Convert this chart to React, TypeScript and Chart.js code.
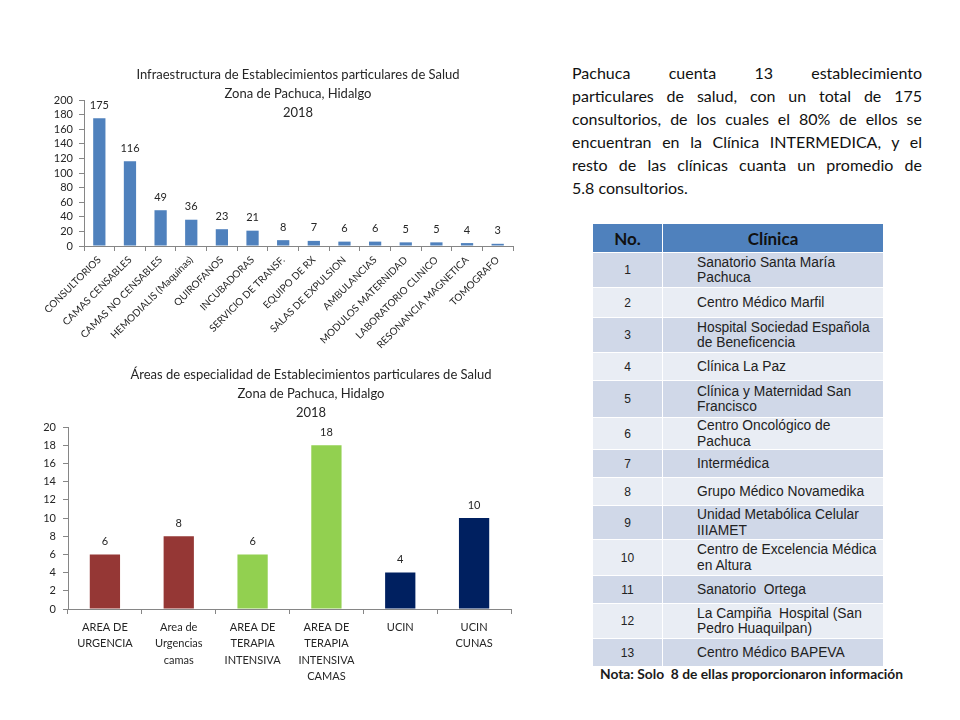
import React, { useEffect, useRef } from 'react';
import { Chart, registerables } from 'chart.js';

Chart.register(...registerables);

// ---------- Data ----------
const infraTitle = ['Infraestructura de Establecimientos particulares de Salud', 'Zona de Pachuca, Hidalgo', '2018'];
const infraCategories = [
  'CONSULTORIOS', 'CAMAS CENSABLES', 'CAMAS NO CENSABLES', 'HEMODIALIS (Maquinas)', 'QUIROFANOS',
  'INCUBADORAS', 'SERVICIO DE TRANSF.', 'EQUIPO DE RX', 'SALAS DE EXPULSION', 'AMBULANCIAS',
  'MODULOS MATERNIDAD', 'LABORATORIO CLINICO', 'RESONANCIA MAGNETICA', 'TOMOGRAFO',
];
const infraValues = [175, 116, 49, 36, 23, 21, 8, 7, 6, 6, 5, 5, 4, 3];
const infraColor = '#4F81BD';
const infraMax = 200;
const infraStep = 20;

const areaTitle = ['Áreas de especialidad de Establecimientos particulares de Salud', 'Zona de Pachuca, Hidalgo', '2018'];
const areaCategories = [
  ['AREA DE', 'URGENCIA'],
  ['Area de', 'Urgencias', 'camas'],
  ['AREA DE', 'TERAPIA', 'INTENSIVA'],
  ['AREA DE', 'TERAPIA', 'INTENSIVA', 'CAMAS'],
  ['UCIN'],
  ['UCIN', 'CUNAS'],
];
const areaValues = [6, 8, 6, 18, 4, 10];
const areaColors = ['#953735', '#953735', '#92D050', '#92D050', '#002060', '#002060'];
const areaMax = 20;
const areaStep = 2;

const paragraphLines = [
  'Pachuca cuenta 13 establecimiento',
  'particulares de salud, con un total de 175',
  'consultorios, de los cuales el 80% de ellos se',
  'encuentran en la Clínica INTERMEDICA, y el',
  'resto de las clínicas cuanta un promedio de',
  '5.8 consultorios.',
];

const tableHeader = ['No.', 'Clínica'];
const clinicNumbers = ['1', '2', '3', '4', '5', '6', '7', '8', '9', '10', '11', '12', '13'];
const clinicNames = [
  'Sanatorio Santa María Pachuca',
  'Centro Médico Marfil',
  'Hospital Sociedad Española de Beneficencia',
  'Clínica La Paz',
  'Clínica y Maternidad San Francisco',
  'Centro Oncológico de Pachuca',
  'Intermédica',
  'Grupo Médico Novamedika',
  'Unidad Metabólica Celular IIIAMET',
  'Centro de Excelencia Médica en Altura',
  'Sanatorio  Ortega',
  'La Campiña  Hospital (San Pedro Huaquilpan)',
  'Centro Médico BAPEVA',
];
const noteText = 'Nota: Solo  8 de ellas proporcionaron información';

// ---------- Layout constants ----------
const rowHeights = [35, 30, 35, 28, 37, 32, 28, 28, 34, 36, 28, 35, 28];
const FONT = 'Lato, "Open Sans", sans-serif';
const TEXT = '#262626';
const AXIS = '#868686';

type ChartSpec = {
  title: string[];
  titleCenterX: number;
  titleYs: number[];
  labels: any[];
  values: number[];
  colors: string | string[];
  max: number;
  step: number;
  yWidth: number;
  yPadding: number;
  xHeight: number;
  padTop: number;
  padRight: number;
  xFont: number;
  xRotate: number;
  xPadding: number;
  xLineHeight: number;
  barPct: number;
};

function BarChart({ spec, left, top, width, height }: { spec: ChartSpec; left: number; top: number; width: number; height: number }) {
  const ref = useRef<HTMLCanvasElement>(null);
  useEffect(() => {
    const canvas = ref.current!;
    const titlePlugin = {
      id: 'slideTitle',
      afterDraw(chart: any) {
        const ctx = chart.ctx;
        ctx.save();
        ctx.font = `13px ${FONT}`;
        ctx.fillStyle = TEXT;
        ctx.textAlign = 'center';
        ctx.textBaseline = 'middle';
        spec.title.forEach((line, i) => ctx.fillText(line, spec.titleCenterX, spec.titleYs[i]));
        ctx.restore();
      },
    };
    const valuePlugin = {
      id: 'valueLabels',
      afterDatasetsDraw(chart: any) {
        const ctx = chart.ctx;
        const meta = chart.getDatasetMeta(0);
        const data = chart.data.datasets[0].data;
        ctx.save();
        ctx.font = `11px ${FONT}`;
        ctx.fillStyle = TEXT;
        ctx.textAlign = 'center';
        ctx.textBaseline = 'middle';
        meta.data.forEach((el: any, i: number) => ctx.fillText(String(data[i]), el.x, el.y - 13));
        ctx.restore();
      },
    };
    const chart = new Chart(canvas, {
      type: 'bar',
      data: {
        labels: spec.labels,
        datasets: [
          {
            data: spec.values,
            backgroundColor: spec.colors as any,
            borderWidth: 0,
            barPercentage: spec.barPct,
            categoryPercentage: 1,
          },
        ],
      },
      options: {
        animation: false,
        responsive: true,
        maintainAspectRatio: false,
        layout: { padding: { top: spec.padTop, right: spec.padRight, left: 0, bottom: 0 } },
        plugins: {
          legend: { display: false },
          tooltip: { enabled: false },
          title: { display: false },
        },
        scales: {
          x: {
            grid: { display: true, drawOnChartArea: false, drawTicks: true, tickLength: 5, color: AXIS, offset: true },
            border: { display: true, color: AXIS, width: 1 },
            ticks: {
              autoSkip: false,
              minRotation: spec.xRotate,
              maxRotation: spec.xRotate,
              padding: spec.xPadding,
              color: TEXT,
              font: { family: FONT, size: spec.xFont, lineHeight: spec.xLineHeight },
            },
            afterFit: (scale: any) => {
              scale.height = spec.xHeight;
            },
          },
          y: {
            min: 0,
            max: spec.max,
            grid: { display: true, drawOnChartArea: false, drawTicks: true, tickLength: 5, color: AXIS },
            border: { display: true, color: AXIS, width: 1 },
            ticks: {
              autoSkip: false,
              stepSize: spec.step,
              padding: spec.yPadding,
              color: TEXT,
              font: { family: FONT, size: 11 },
            },
            afterFit: (scale: any) => {
              scale.width = spec.yWidth;
            },
          },
        },
      },
      plugins: [titlePlugin, valuePlugin],
    });
    return () => chart.destroy();
  }, [spec]);
  return (
    <div style={{ position: 'absolute', left, top, width, height }}>
      <canvas ref={ref} />
    </div>
  );
}

const infraSpec: ChartSpec = {
  title: infraTitle,
  titleCenterX: 278,
  titleYs: [15, 33.5, 52.5],
  labels: infraCategories,
  values: infraValues,
  colors: infraColor,
  max: infraMax,
  step: infraStep,
  yWidth: 64,
  yPadding: 6,
  xHeight: 124,
  padTop: 40,
  padRight: 27,
  xFont: 10,
  xRotate: 45,
  xPadding: 3,
  xLineHeight: 1.2,
  barPct: 0.4,
};

const areaSpec: ChartSpec = {
  title: areaTitle,
  titleCenterX: 291,
  titleYs: [10, 29, 48],
  labels: areaCategories,
  values: areaValues,
  colors: areaColors,
  max: areaMax,
  step: areaStep,
  yWidth: 48,
  yPadding: 7,
  xHeight: 91,
  padTop: 62,
  padRight: 29,
  xFont: 11,
  xRotate: 0,
  xPadding: 5,
  xLineHeight: 1.5,
  barPct: 0.41,
};

export default function App() {
  return (
    <div
      style={{
        position: 'absolute',
        left: 0,
        top: 0,
        width: 960,
        height: 720,
        overflow: 'hidden',
        background: '#ffffff',
        fontFamily: FONT,
        color: '#1a1a1a',
      }}
    >
      <BarChart spec={infraSpec} left={20} top={60} width={520} height={310} />
      <BarChart spec={areaSpec} left={20} top={365} width={520} height={335} />

      <div style={{ position: 'absolute', left: 572, top: 60.5, width: 350, fontSize: 16, color: '#111' }}>
        {paragraphLines.map((line, i) => (
          <div
            key={i}
            style={{
              height: 23,
              lineHeight: '23px',
              textAlign: 'justify',
              textAlignLast: i < paragraphLines.length - 1 ? 'justify' : 'left',
              whiteSpace: 'nowrap',
            } as any}
          >
            {line}
          </div>
        ))}
      </div>

      <div style={{ position: 'absolute', left: 593, top: 224, width: 290 }}>
        <div style={{ display: 'flex', height: 28, background: '#4F81BD', fontWeight: 700, fontSize: 17, color: '#111' }}>
          <div style={{ width: 69, borderRight: '1px solid #fff', display: 'flex', alignItems: 'center', justifyContent: 'center' }}>
            {tableHeader[0]}
          </div>
          <div style={{ flex: 1, display: 'flex', alignItems: 'center', justifyContent: 'center' }}>{tableHeader[1]}</div>
        </div>
        {clinicNumbers.map((n, i) => (
          <div
            key={n}
            style={{
              display: 'flex',
              height: rowHeights[i],
              boxSizing: 'border-box',
              borderTop: '1px solid #fff',
              background: i % 2 === 0 ? '#D0D8E8' : '#E9EDF4',
              fontFamily: '"Liberation Sans", Arial, sans-serif',
              color: '#222',
            }}
          >
            <div
              style={{
                width: 69,
                borderRight: '1px solid #fff',
                display: 'flex',
                alignItems: 'center',
                justifyContent: 'center',
                fontSize: 12,
              }}
            >
              {n}
            </div>
            <div
              style={{
                flex: 1,
                display: 'flex',
                alignItems: 'center',
                paddingLeft: 34,
                paddingRight: 6,
                fontSize: 13.8,
                lineHeight: '15.5px',
                whiteSpace: 'pre-wrap',
              }}
            >
              {clinicNames[i]}
            </div>
          </div>
        ))}
      </div>

      <div
        style={{
          position: 'absolute',
          left: 600,
          top: 665,
          fontSize: 13.8,
          fontWeight: 700,
          lineHeight: '18px',
          color: '#1a1a1a',
          whiteSpace: 'pre',
        }}
      >
        {noteText}
      </div>
    </div>
  );
}
